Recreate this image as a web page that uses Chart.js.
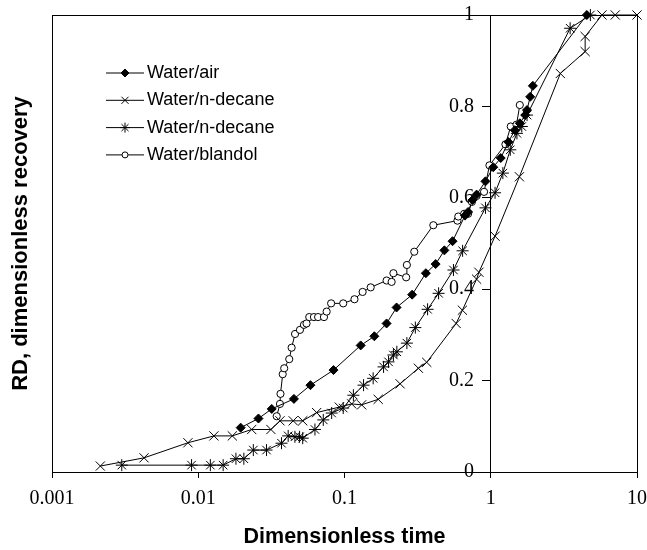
<!DOCTYPE html>
<html>
<head>
<meta charset="utf-8">
<script src="https://cdn.jsdelivr.net/npm/chart.js@4.4.1/dist/chart.umd.min.js"></script>
<style>
html,body{margin:0;padding:0;background:#fff;}
canvas{display:block;}
</style>
</head>
<body>
<canvas id="c" width="647" height="550"></canvas>
<script>
// ---- data ----
const xTicks = [0.001, 0.01, 0.1, 1, 10];
const xTickLabels = ["0.001", "0.01", "0.1", "1", "10"];
const yTickLabels = ["0", "0.2", "0.4", "0.6", "0.8", "1"];

const seriesNames = ["Water/air", "Water/n-decane", "Water/n-decane", "Water/blandol"];

const airT  = [0.0195,0.0258,0.0318,0.0451,0.0585,0.0841,0.129,0.160,0.194,0.227,0.290,0.360,0.420,0.482,0.548,0.667,0.70,0.75,0.80,0.92,1.04,1.17,1.32,1.46,1.58,1.72,1.77,1.86,1.94,4.54];
const airRD = [0.097,0.117,0.138,0.160,0.190,0.223,0.277,0.297,0.325,0.360,0.388,0.435,0.455,0.485,0.505,0.561,0.569,0.595,0.607,0.636,0.667,0.687,0.722,0.748,0.763,0.781,0.792,0.821,0.845,1.0];

const dec1T  = [0.00214,0.00426,0.0085,0.0128,0.0171,0.0232,0.0314,0.0362,0.0446,0.0518,0.0645,0.0921,0.112,0.131,0.170,0.240,0.320,0.365,0.58,0.64,0.80,0.83,1.07,1.57,2.99,4.42,4.42,5.76,7.1,10];
const dec1RD = [0.013,0.031,0.064,0.079,0.079,0.093,0.093,0.112,0.112,0.112,0.130,0.142,0.149,0.147,0.159,0.193,0.227,0.240,0.325,0.354,0.422,0.437,0.516,0.646,0.872,0.920,0.953,1.0,1.0,1.0];

const dec2T  = [0.003,0.0090,0.0121,0.0148,0.0181,0.0205,0.0238,0.0293,0.0371,0.0412,0.0458,0.0493,0.0518,0.0628,0.0716,0.0817,0.098,0.115,0.135,0.157,0.185,0.200,0.216,0.228,0.267,0.305,0.370,0.440,0.556,0.642,0.92,1.07,1.21,1.36,1.51,1.63,1.77,3.49,4.8];
const dec2RD = [0.015,0.015,0.015,0.015,0.029,0.029,0.048,0.048,0.063,0.079,0.077,0.077,0.074,0.093,0.114,0.129,0.140,0.168,0.190,0.205,0.230,0.241,0.256,0.263,0.282,0.316,0.356,0.391,0.442,0.484,0.578,0.611,0.654,0.705,0.741,0.756,0.781,0.971,1.0];

const blaT  = [0.0344,0.0362,0.0365,0.0378,0.0387,0.0419,0.0435,0.0459,0.0496,0.0528,0.055,0.0574,0.0618,0.066,0.0724,0.0755,0.081,0.098,0.117,0.133,0.151,0.194,0.21,0.216,0.264,0.267,0.30,0.405,0.592,0.60,0.658,0.70,0.743,0.80,0.90,0.98,1.26,1.37,1.50,1.58];
const blaRD = [0.122,0.149,0.171,0.214,0.227,0.247,0.272,0.302,0.311,0.322,0.325,0.339,0.339,0.339,0.339,0.351,0.369,0.369,0.378,0.394,0.404,0.419,0.416,0.435,0.426,0.453,0.482,0.540,0.550,0.559,0.565,0.565,0.591,0.604,0.613,0.671,0.717,0.756,0.760,0.803];

// ---- build ----
function pts(t, r) { return t.map((v, i) => ({x: v, y: r[i]})); }

const serif = "'Liberation Serif', 'Times New Roman', serif";
const sans = "'Liberation Sans', Arial, sans-serif";

const styles = [
  {pointStyle: 'rectRot',  radius: 4.5, bg: '#000'},
  {pointStyle: 'crossRot', radius: 6.5, bg: '#000'},
  {pointStyle: 'star',     radius: 6,   bg: '#000'},
  {pointStyle: 'circle',   radius: 3.6, bg: '#fff'}
];
const allData = [pts(airT, airRD), pts(dec1T, dec1RD), pts(dec2T, dec2RD), pts(blaT, blaRD)];

const datasets = allData.map((d, i) => ({
  label: seriesNames[i],
  data: d,
  showLine: true,
  borderColor: '#000',
  borderWidth: 1,
  pointStyle: styles[i].pointStyle,
  pointRadius: styles[i].radius,
  pointHoverRadius: styles[i].radius,
  pointBackgroundColor: styles[i].bg,
  pointBorderColor: '#000',
  pointBorderWidth: 1,
  clip: false
}));

const framePlugin = {
  id: 'frame',
  afterDraw(chart) {
    const {ctx, chartArea: a} = chart;
    ctx.save();
    ctx.strokeStyle = '#000';
    ctx.lineWidth = 1;
    ctx.strokeRect(Math.round(a.left) + 0.5, Math.round(a.top) + 0.5,
                   Math.round(a.right - a.left), Math.round(a.bottom - a.top));
    ctx.restore();
  }
};

const legendPlugin = {
  id: 'innerLegend',
  afterDraw(chart) {
    const ctx = chart.ctx;
    const x0 = 106, x1 = 144, tx = 147, y0 = 73, dy = 27.3;
    ctx.save();
    chart.data.datasets.forEach((ds, i) => {
      const y = y0 + i * dy;
      ctx.strokeStyle = '#000';
      ctx.lineWidth = 1;
      ctx.beginPath();
      ctx.moveTo(x0, y);
      ctx.lineTo(x1, y);
      ctx.stroke();
      ctx.fillStyle = ds.pointBackgroundColor;
      ctx.strokeStyle = '#000';
      ctx.lineWidth = 1;
      const r = ds.pointStyle === 'rectRot' ? 4 : (ds.pointStyle === 'circle' ? 3 : 5);
      Chart.helpers.drawPoint(ctx, {pointStyle: ds.pointStyle, radius: r, rotation: 0, borderWidth: 1}, (x0 + x1) / 2, y);
      ctx.fillStyle = '#000';
      ctx.font = "18px " + sans;
      ctx.textAlign = 'left';
      ctx.textBaseline = 'middle';
      ctx.fillText(ds.label, tx, y);
    });
    ctx.restore();
  }
};

// trailing spaces keep the right-aligned y labels clear of the tick marks
const yLabelGap = "   \u200A";

new Chart(document.getElementById('c'), {
  type: 'scatter',
  data: {datasets},
  plugins: [framePlugin, legendPlugin],
  options: {
    responsive: false,
    animation: false,
    devicePixelRatio: 1,
    layout: {padding: {left: 4, right: 10, top: 15, bottom: 0}},
    plugins: {legend: {display: false}, tooltip: {enabled: false}},
    scales: {
      x: {
        type: 'logarithmic',
        position: 'bottom',
        min: 0.001,
        max: 10,
        afterBuildTicks: (s) => { s.ticks = xTicks.map(v => ({value: v})); },
        ticks: {
          callback: (v, i) => xTickLabels[i],
          font: {family: serif, size: 20, lineHeight: '41px'},
          color: '#000',
          padding: 0,
          maxRotation: 0,
          autoSkip: false
        },
        grid: {drawOnChartArea: false, tickLength: 6, color: '#000'},
        border: {color: '#000'},
        title: {
          display: true,
          text: 'Dimensionless time',
          font: {family: sans, size: 21.5, weight: 'bold'},
          color: '#000',
          padding: {top: 5.2, bottom: 0}
        }
      },
      y: {
        type: 'linear',
        position: {x: 1},
        min: 0,
        max: 1,
        ticks: {
          stepSize: 0.2,
          callback: (v, i) => yTickLabels[i] + yLabelGap,
          font: {family: serif, size: 20},
          color: '#000',
          padding: 0
        },
        grid: {drawOnChartArea: false, tickLength: 8, color: '#000'},
        border: {color: '#000'}
      },
      yL: {
        type: 'linear',
        position: 'left',
        min: 0,
        max: 1,
        ticks: {display: false},
        grid: {display: false, drawTicks: false},
        border: {display: true, color: '#000'},
        title: {
          display: true,
          text: 'RD, dimensionless recovery',
          font: {family: sans, size: 22, weight: 'bold'},
          color: '#000',
          padding: {top: 3.8, bottom: 17.8}
        }
      }
    }
  }
});
</script>
</body>
</html>
